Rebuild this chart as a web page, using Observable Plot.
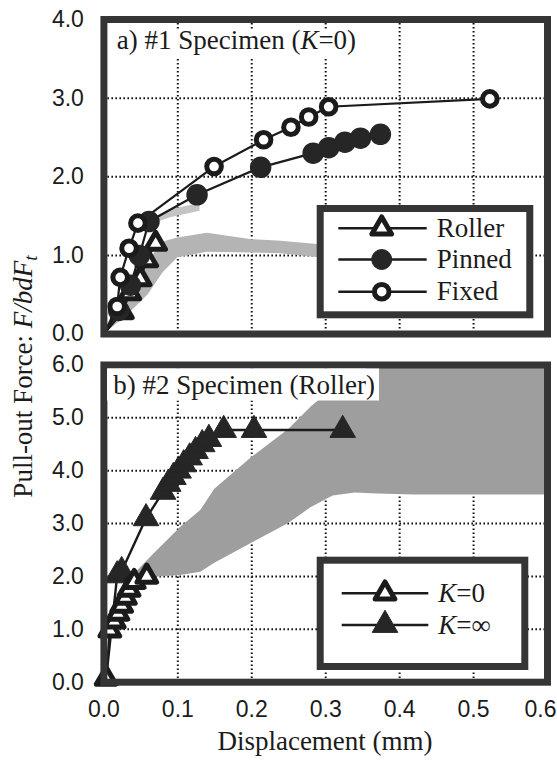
<!DOCTYPE html>
<html><head><meta charset="utf-8">
<script src="https://cdn.jsdelivr.net/npm/d3@7"></script>
<script src="https://cdn.jsdelivr.net/npm/@observablehq/plot@0.6"></script>
<style>
body{margin:0;background:#fff;}
#wrap{position:relative;width:557px;height:762px;overflow:hidden;background:#fff;}
#wrap svg{position:absolute;left:0;max-width:none;background:transparent;}
</style></head><body><div id="wrap"></div>
<script>
// ---- tick values ----
const xTicks = [0, 0.1, 0.2, 0.3, 0.4, 0.5];
const xTickLast = [0.6];
const xGrid = [0.1, 0.2, 0.3, 0.4, 0.5];
const yTicksA = [0, 1, 2, 3, 4];
const yGridA = [1, 2, 3];
const yTicksB = [0, 1, 2, 3, 4, 5, 6];
const yGridB = [1, 2, 3, 4, 5];

// ---- panel a) #1 Specimen (K=0) ----
const rollerX = [0, 0.025, 0.035, 0.049, 0.058, 0.070];
const rollerY = [0, 0.28, 0.52, 0.70, 0.94, 1.15];
const pinnedX = [0, 0.020, 0.036, 0.048, 0.061, 0.126, 0.212, 0.283, 0.304, 0.326, 0.347, 0.374];
const pinnedY = [0, 0.30, 0.62, 1.00, 1.43, 1.77, 2.12, 2.30, 2.37, 2.44, 2.49, 2.54];
const fixedX = [0, 0.018, 0.022, 0.034, 0.046, 0.149, 0.216, 0.253, 0.277, 0.304, 0.522];
const fixedY = [0, 0.35, 0.72, 1.09, 1.41, 2.13, 2.47, 2.63, 2.76, 2.89, 2.99];
// gray analysis bands, panel a
const bandAX = [0, 0.03, 0.06, 0.08, 0.10, 0.14, 0.20, 0.24, 0.30, 0.33];
const bandALow = [0, 0.22, 0.50, 0.78, 0.97, 1.04, 1.03, 1.02, 0.96, 0.93];
const bandAHigh = [0.04, 0.45, 0.92, 1.17, 1.22, 1.28, 1.20, 1.18, 1.13, 1.10];
const band2X = [0.06, 0.09, 0.13];
const band2Low = [1.38, 1.48, 1.56];
const band2High = [1.45, 1.58, 1.66];

// ---- panel b) #2 Specimen (Roller) ----
const k0X = [0.003, 0.008, 0.014, 0.019, 0.024, 0.029, 0.034, 0.041, 0.058];
const k0Y = [0.07, 0.98, 1.15, 1.30, 1.45, 1.60, 1.75, 1.90, 2.00];
const kInfX = [0.003, 0.018, 0.024, 0.057, 0.080, 0.087, 0.094, 0.101, 0.108, 0.116, 0.124, 0.133, 0.142, 0.162, 0.203, 0.323];
const kInfY = [0.07, 2.02, 2.10, 3.10, 3.60, 3.75, 3.88, 4.00, 4.12, 4.25, 4.37, 4.50, 4.60, 4.77, 4.77, 4.77];
const bandBX = [0.045, 0.063, 0.104, 0.131, 0.15, 0.20, 0.25, 0.28, 0.31, 0.34, 0.37, 0.42, 0.60];
const bandBLow = [2.00, 1.98, 2.02, 2.08, 2.25, 2.63, 3.00, 3.30, 3.52, 3.58, 3.56, 3.54, 3.54];
const bandBHigh = [2.10, 2.36, 2.93, 3.25, 3.65, 4.25, 4.78, 5.20, 5.55, 5.85, 6.00, 6.00, 6.00];

// ---- helpers ----
const rows = (xs, ys) => xs.map((x, i) => ({x, y: ys[i]}));
const bandRows = (xs, lo, hi) => xs.map((x, i) => ({x, lo: lo[i], hi: hi[i]}));
const fmt = d3.format(".1f");
const INK = "#1b1b1b";
const FRAME = "#353535";
const sans = "'Liberation Sans', Arial, sans-serif";
const serif = "'Liberation Serif', 'Times New Roman', serif";

const commonMarks = (yGrid) => [
  Plot.gridX(xGrid, {stroke: "#111", strokeOpacity: 1, strokeWidth: 2, strokeDasharray: "1.6,2.4"}),
  Plot.gridY(yGrid, {stroke: "#111", strokeOpacity: 1, strokeWidth: 2, strokeDasharray: "1.6,2.4"})
];

const open = {fill: "white", stroke: INK};
const solid = {fill: "#262626", stroke: "#262626"};

// Panel A
const roller = rows(rollerX, rollerY), pinned = rows(pinnedX, pinnedY), fixed = rows(fixedX, fixedY);
const plotA = Plot.plot({
  width: 557, height: 345,
  marginLeft: 103.4, marginRight: 10, marginTop: 19, marginBottom: 11.5,
  x: {domain: [0, 0.6], axis: null},
  y: {domain: [0, 4]},
  style: {fontFamily: sans, fontSize: "23px", color: INK, background: "transparent"},
  marks: [
    ...commonMarks(yGridA),
    Plot.areaY(bandRows(bandAX, bandALow, bandAHigh), {x: "x", y1: "lo", y2: "hi", fill: "#b4b4b4"}),
    Plot.areaY(bandRows(band2X, band2Low, band2High), {x: "x", y1: "lo", y2: "hi", fill: "#c4c4c4"}),
    Plot.line(roller, {x: "x", y: "y", stroke: INK, strokeWidth: 2.2}),
    Plot.line(pinned, {x: "x", y: "y", stroke: INK, strokeWidth: 2.2}),
    Plot.line(fixed, {x: "x", y: "y", stroke: INK, strokeWidth: 2.2}),
    Plot.dot(roller.slice(1), {x: "x", y: "y", symbol: "triangle", r: 7.3, strokeWidth: 5, strokeLinejoin: "round", ...open}),
    Plot.dot(pinned.slice(1), {x: "x", y: "y", r: 10, ...solid}),
    Plot.dot(fixed.slice(1), {x: "x", y: "y", r: 7.3, strokeWidth: 5, ...open}),
    Plot.frame({stroke: FRAME, strokeWidth: 7}),
    Plot.axisY(yTicksA, {tickSize: 0, tickPadding: 20, tickFormat: fmt, label: null, fontSize: 23, fontFamily: sans})
  ]
});
plotA.style.top = "0px";

// Panel B
const k0 = rows(k0X, k0Y), kInf = rows(kInfX, kInfY);
const plotB = Plot.plot({
  width: 557, height: 422,
  marginLeft: 103.4, marginRight: 10, marginTop: 24.5, marginBottom: 80.3,
  x: {domain: [0, 0.6]},
  y: {domain: [0, 6]},
  style: {fontFamily: sans, fontSize: "23px", color: INK, background: "transparent"},
  marks: [
    ...commonMarks(yGridB),
    Plot.areaY(bandRows(bandBX, bandBLow, bandBHigh), {x: "x", y1: "lo", y2: "hi", fill: "#9e9e9e"}),
    Plot.line(kInf, {x: "x", y: "y", stroke: INK, strokeWidth: 2.4}),
    Plot.line(k0, {x: "x", y: "y", stroke: INK, strokeWidth: 2.2}),
    Plot.dot(kInf.slice(1), {x: "x", y: "y", symbol: "triangle", r: 9.5, strokeWidth: 1, ...solid}),
    Plot.dot(k0, {x: "x", y: "y", symbol: "triangle", r: 7.3, strokeWidth: 5, strokeLinejoin: "round", ...open}),
    Plot.frame({stroke: FRAME, strokeWidth: 7}),
    Plot.axisY(yTicksB, {tickSize: 0, tickPadding: 20, tickFormat: fmt, label: null, fontSize: 23, fontFamily: sans}),
    Plot.axisX(xTicks, {tickSize: 0, tickPadding: 18, tickFormat: fmt, label: null, fontSize: 23, fontFamily: sans}),
    Plot.axisX(xTickLast, {tickSize: 0, tickPadding: 18, tickFormat: fmt, label: null, fontSize: 23, fontFamily: sans, dx: -7})
  ]
});
plotB.style.top = "340px";

const wrap = document.getElementById("wrap");
wrap.appendChild(plotA);
wrap.appendChild(plotB);

// ---- overlay: titles, legends, axis labels ----
const ov = d3.select(wrap).append("svg")
  .attr("width", 557).attr("height", 762).style("top", "0px")
  .attr("font-family", serif).attr("fill", INK);

// titles with white backing
ov.append("rect").attr("x", 112).attr("y", 30).attr("width", 247).attr("height", 27).attr("fill", "white");
const ta = ov.append("text").attr("x", 116.7).attr("y", 49).attr("font-size", 27);
ta.append("tspan").text("a) #1 Specimen (");
ta.append("tspan").attr("font-style", "italic").text("K");
ta.append("tspan").text("=0)");

ov.append("rect").attr("x", 107).attr("y", 368.5).attr("width", 272).attr("height", 32).attr("fill", "white");
ov.append("text").attr("x", 113.3).attr("y", 394).attr("font-size", 27).text("b) #2 Specimen (Roller)");

// legends
function legend(box, items) {
  ov.append("rect").attr("x", box.x).attr("y", box.y).attr("width", box.w).attr("height", box.h)
    .attr("fill", "white").attr("stroke", FRAME).attr("stroke-width", 7);
  for (const it of items) {
    ov.append("line").attr("x1", box.lx1).attr("x2", box.lx2).attr("y1", it.y).attr("y2", it.y)
      .attr("stroke", INK).attr("stroke-width", 2.4);
    ov.append("path")
      .attr("d", d3.symbol().type(it.type).size(Math.PI * it.r * it.r)())
      .attr("transform", `translate(${box.sx},${it.y})`)
      .attr("fill", it.fill).attr("stroke", it.stroke).attr("stroke-width", it.sw)
      .attr("stroke-linejoin", "round");
    const t = ov.append("text").attr("x", box.tx).attr("y", it.y + 8.7).attr("font-size", 27);
    for (const [s, ital] of it.label) {
      const sp = t.append("tspan").text(s);
      if (ital) sp.attr("font-style", "italic");
    }
  }
}
legend({x: 320.2, y: 208.5, w: 209.6, h: 106.3, lx1: 338.3, lx2: 426.7, sx: 381.7, tx: 436.7}, [
  {y: 228.3, type: d3.symbolTriangle, r: 7.3, fill: "white", stroke: INK, sw: 5, label: [["Roller"]]},
  {y: 259.5, type: d3.symbolCircle, r: 10, fill: "#262626", stroke: "#262626", sw: 1, label: [["Pinned"]]},
  {y: 291.7, type: d3.symbolCircle, r: 7.3, fill: "white", stroke: INK, sw: 5, label: [["Fixed"]]}
]);
legend({x: 320.2, y: 560.2, w: 204.6, h: 106.3, lx1: 341.7, lx2: 428.3, sx: 385, tx: 438.3}, [
  {y: 593.3, type: d3.symbolTriangle, r: 7.3, fill: "white", stroke: INK, sw: 5, label: [["K", true], ["=0"]]},
  {y: 625, type: d3.symbolTriangle, r: 9.5, fill: "#262626", stroke: "#262626", sw: 1, label: [["K", true], ["=∞"]]}
]);

// axis titles
const yl = ov.append("text").attr("transform", "translate(31.5,376.5) rotate(-90)")
  .attr("text-anchor", "middle").attr("font-size", 27);
yl.append("tspan").text("Pull-out Force: ");
yl.append("tspan").attr("font-style", "italic").text("F/bdF");
yl.append("tspan").attr("font-style", "italic").attr("font-size", 19).attr("dy", 5).text("t");

ov.append("text").attr("x", 325).attr("y", 750).attr("text-anchor", "middle").attr("font-size", 27)
  .text("Displacement (mm)");
</script></body></html>
